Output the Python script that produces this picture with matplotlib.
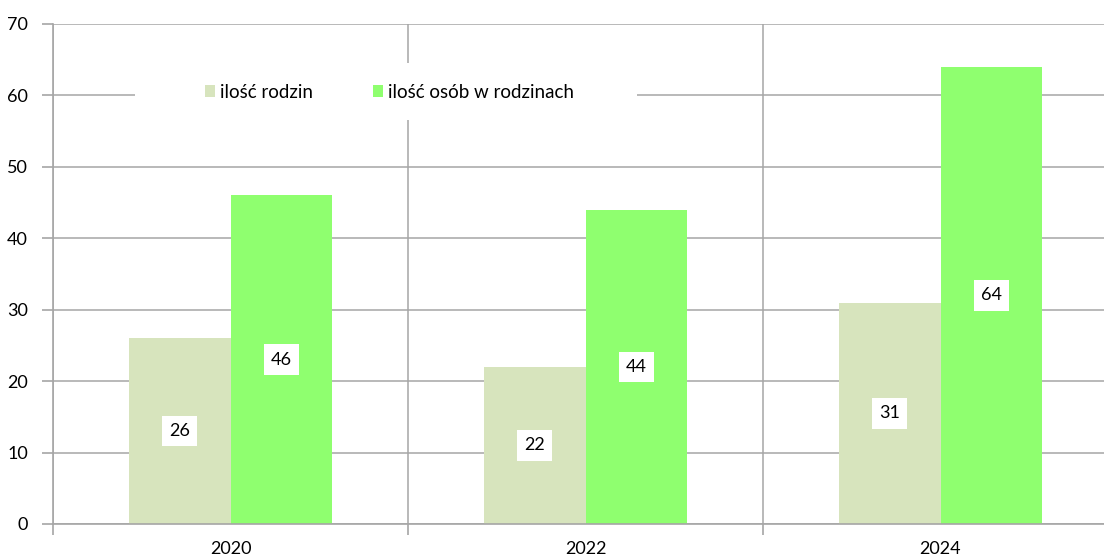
import matplotlib.pyplot as plt
from matplotlib.patches import Rectangle
import numpy as np

# dane z wykresu
lata = ['2020', '2022', '2024']
ilosc_rodzin = [26, 22, 31]
ilosc_osob = [46, 44, 64]

kolor_rodzin = '#D7E4BD'
kolor_osob = '#8FFF6F'
kolor_siatki = '#A6A6A6'

plt.rcParams['font.family'] = ['Lato', 'DejaVu Sans']

fig = plt.figure(figsize=(11.04, 5.58), dpi=100)
ax = fig.add_axes([53 / 1104, 34 / 558, 1065 / 1104, 500 / 558])

x = np.arange(len(lata)) + 0.5
szer = 0.286

s1 = ax.bar(x - szer / 2, ilosc_rodzin, szer, color=kolor_rodzin, zorder=2,
            label='ilość rodzin')
s2 = ax.bar(x + szer / 2, ilosc_osob, szer, color=kolor_osob, zorder=2,
            label='ilość osób w rodzinach')

# etykiety danych w połowie wysokości słupków
for slupki, wartosci in [(s1, ilosc_rodzin), (s2, ilosc_osob)]:
    for b, v in zip(slupki, wartosci):
        ax.text(b.get_x() + b.get_width() / 2, v / 2, str(v),
                ha='center', va='center', fontsize=13, zorder=4,
                bbox=dict(boxstyle='square,pad=0.4', fc='white', ec='none'))

ax.set_xlim(0, 3)
ax.set_ylim(0, 70)
ax.set_yticks(range(0, 71, 10))
ax.set_xticks([0, 1, 2, 3])
ax.set_xticklabels([])
ax.set_xticks(x, minor=True)
ax.set_xticklabels(lata, minor=True)

ax.tick_params(axis='x', which='major', length=8, width=1.2, color=kolor_siatki)
ax.tick_params(axis='x', which='minor', length=0, pad=12, labelsize=13)
ax.tick_params(axis='y', length=8, width=1.2, color=kolor_siatki,
               labelsize=13, pad=10)

ax.grid(True, which='major', color=kolor_siatki, linewidth=1.1, zorder=0)
ax.set_axisbelow(True)
for s in ['top', 'right']:
    ax.spines[s].set_visible(False)
for s in ['left', 'bottom']:
    ax.spines[s].set_color(kolor_siatki)
    ax.spines[s].set_linewidth(1.2)

# białe tło legendy zasłaniające siatkę
ax.add_patch(Rectangle((0.077, 0.808), 0.471, 0.114, transform=ax.transAxes,
                       facecolor='white', edgecolor='none', zorder=1))
ax.legend(loc='center', bbox_to_anchor=(0.316, 0.864), ncol=2, frameon=False,
          fontsize=13.5, handlelength=0.55, handleheight=0.55,
          handletextpad=0.25, columnspacing=3.2)

fig.savefig('out.png', dpi=100)
